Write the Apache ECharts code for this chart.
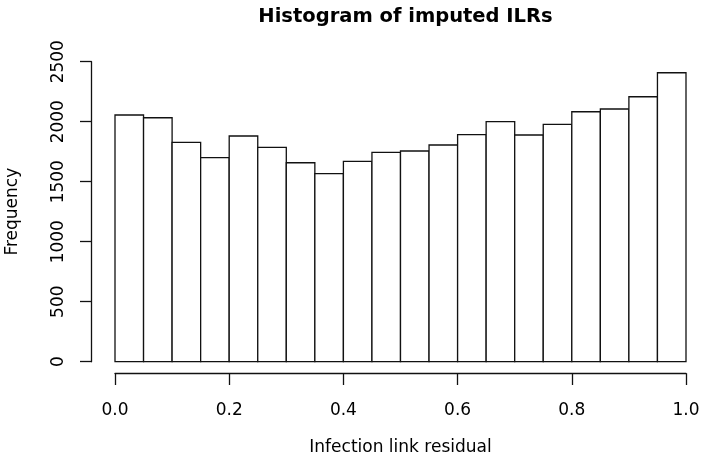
<!DOCTYPE html>
<html>
<head>
<meta charset="utf-8">
<script src="https://cdn.jsdelivr.net/npm/echarts@6/dist/echarts.min.js"></script>
<style>
html,body{margin:0;padding:0;background:#fff;}
#chart{width:710px;height:469px;}
</style>
</head>
<body>
<div id="chart"></div>
<script>
// Histogram bin edges (20 bins of width 0.05 from 0 to 1)
const binEdges = [0.00, 0.05, 0.10, 0.15, 0.20, 0.25, 0.30, 0.35, 0.40, 0.45, 0.50,
                  0.55, 0.60, 0.65, 0.70, 0.75, 0.80, 0.85, 0.90, 0.95, 1.00];
// Frequencies per bin
const counts = [2056, 2033, 1828, 1700, 1881, 1786, 1658, 1567, 1669, 1744,
                1756, 1806, 1892, 2000, 1889, 1978, 2083, 2106, 2208, 2408];
const xTickLabels = ['0.0', '0.2', '0.4', '0.6', '0.8', '1.0'];
const yTickLabels = ['0', '500', '1000', '1500', '2000', '2500'];

const titleText = 'Histogram of imputed ILRs';
const xName = 'Infection link residual';
const yName = 'Frequency';

const data = counts.map((c, i) => [binEdges[i], binEdges[i + 1], c]);

const FONT = 'DejaVu Sans';
const chart = echarts.init(document.getElementById('chart'), null, {renderer: 'canvas'});
chart.setOption({
  backgroundColor: '#ffffff',
  animation: false,
  title: {
    text: titleText,
    left: 400.5,
    top: 2,
    textAlign: 'center',
    textStyle: {fontFamily: FONT, fontWeight: 'bold', fontSize: 19.5, color: '#000'}
  },
  grid: {left: 115, right: 24, top: 61.7, bottom: 107.3, containLabel: false, outerBoundsMode: 'none'},
  xAxis: {
    type: 'value',
    min: 0, max: 1, interval: 0.2,
    offset: 11.6,
    name: xName,
    nameLocation: 'middle',
    nameGap: 66,
    nameTextStyle: {fontFamily: FONT, fontSize: 17, color: '#000'},
    axisLine: {show: true, onZero: false, lineStyle: {color: '#111', width: 1.3}},
    axisTick: {show: true, length: 11.7, lineStyle: {color: '#111', width: 1.3}},
    axisLabel: {
      margin: 29,
      fontFamily: FONT, fontSize: 17, color: '#000',
      formatter: v => xTickLabels[Math.round(v / 0.2)]
    },
    splitLine: {show: false}
  },
  yAxis: {
    type: 'value',
    min: 0, max: 2500, interval: 500,
    offset: 23.3,
    name: yName,
    nameLocation: 'middle',
    nameGap: 71,
    nameTextStyle: {fontFamily: FONT, fontSize: 17, color: '#000'},
    axisLine: {show: true, onZero: false, lineStyle: {color: '#111', width: 1.3}},
    axisTick: {show: true, length: 11.7, lineStyle: {color: '#111', width: 1.3}},
    axisLabel: {
      rotate: 90,
      margin: 25,
      fontFamily: FONT, fontSize: 17, color: '#000',
      formatter: v => yTickLabels[Math.round(v / 500)]
    },
    splitLine: {show: false}
  },
  series: [{
    type: 'custom',
    data: data,
    encode: {x: [0, 1], y: 2},
    renderItem: function (params, api) {
      const x0 = api.value(0), x1 = api.value(1), y = api.value(2);
      const p0 = api.coord([x0, 0]);
      const p1 = api.coord([x1, y]);
      return {
        type: 'rect',
        shape: {x: p0[0], y: p1[1], width: p1[0] - p0[0], height: p0[1] - p1[1]},
        style: {fill: '#ffffff', stroke: '#111111', lineWidth: 1.3}
      };
    }
  }]
});
</script>
</body>
</html>
